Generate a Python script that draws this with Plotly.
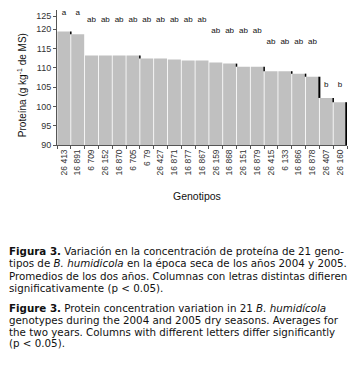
import plotly.graph_objects as go

genotypes = ["26 413", "16 891", "6 709", "26 152", "16 870", "6 705", "6 79", "26 427",
             "16 871", "16 877", "16 867", "26 159", "16 868", "26 151", "16 879", "26 415",
             "6 133", "16 866", "16 878", "26 407", "26 160"]
protein = [119.4, 118.7, 113.2, 113.2, 113.2, 113.2, 112.4, 112.4, 112.15, 111.9, 111.9,
           111.4, 111.1, 110.3, 110.3, 109.1, 109.1, 108.5, 107.7, 102.2, 101.1]
letters = ["a", "a", "ab", "ab", "ab", "ab", "ab", "ab", "ab", "ab", "ab", "ab", "ab", "ab",
           "ab", "ab", "ab", "ab", "ab", "b", "b"]
y_ticks = [90, 95, 100, 105, 110, 115, 120, 125]

# layout/style (positions of the significance letters, in axis units)
letter_pos = [124.2, 124.2] + [122.4] * 9 + [119.6] * 4 + [116.7] * 4 + [105.6] * 2
shadow_after = [0, 5, 12, 14, 16, 17, 18, 19]  # visible dark bar-edge shadows

OFF = 8  # default page-body margin of the html page
W, H = 360 - OFF, 368 - OFF
L, R, T, B = 57 - OFF, 13, 10 - OFF, 223.3
pw, ph = W - L - R, H - T - B


def px(x):  # page pixel -> paper coordinate
    return (x - OFF - L) / pw


def py(y):
    return 1 - (y - OFF - T) / ph


fig = go.Figure()
fig.add_trace(go.Bar(x=genotypes, y=protein, marker=dict(color="#c0c0c0", line=dict(width=0)),
                     showlegend=False, hoverinfo="x+y"))
fig.add_trace(go.Scatter(x=genotypes, y=letter_pos, mode="text", text=letters,
                         textfont=dict(family="Liberation Sans", size=8, color="#111"),
                         showlegend=False, hoverinfo="skip"))

shapes = []
for i in shadow_after:
    hi = protein[i]
    lo = protein[i + 1] if i + 1 < len(protein) else 90
    shapes.append(dict(type="line", xref="x", yref="y", x0=i + 0.5, x1=i + 0.5, y0=lo, y1=hi,
                       line=dict(color="black", width=2 if hi - lo > 2 else 1.5)))
last = len(protein) - 1
shapes.append(dict(type="line", xref="x", yref="y", x0=last + 0.45, x1=last + 0.45, y0=90,
                   y1=protein[last], line=dict(color="black", width=2)))

tick_pos = y_ticks[:-1] + [123.4]

fig.update_layout(
    width=W, height=H, autosize=False,
    margin=dict(l=L, r=R, t=T, b=B, pad=0),
    paper_bgcolor="white", plot_bgcolor="white",
    bargap=0.06,
    font=dict(family="Liberation Sans", color="#222"),
    shapes=shapes,
    xaxis=dict(type="category", showgrid=False, showline=True, linecolor="#555", linewidth=1,
               automargin=False,
               ticks="outside", tickson="boundaries", ticklen=3, tickcolor="#555",
               tickangle=-90, tickfont=dict(size=8.5, color="#333"),
               range=[-0.5, len(genotypes) - 0.5]),
    yaxis=dict(range=[90, 125], showgrid=False, zeroline=False, showline=True, linecolor="#555",
               automargin=False,
               linewidth=1, ticks="outside", ticklen=3, tickcolor="#555",
               tickvals=tick_pos, ticktext=[str(v) for v in y_ticks],
               tickfont=dict(size=9, color="#333")),
)

# axis titles
fig.add_annotation(text="Genotipos", xref="paper", yref="paper", x=px(197), y=py(196),
                   xanchor="center", yanchor="middle", showarrow=False,
                   font=dict(family="Liberation Sans", size=10.5, color="#111"))
fig.add_annotation(text="Proteína (g kg<sup>-1</sup> de MS)", xref="paper", yref="paper",
                   x=px(22), y=py(85), textangle=-90, xanchor="center", yanchor="middle",
                   showarrow=False, font=dict(family="Liberation Sans", size=10, color="#111"))

cap_font = dict(family="DejaVu Sans", size=10.3, color="#111")
lines = [
    "<b>Figura 3.</b> Variación en la concentración de proteína de 21 geno-",
    "tipos de <i>B. humidicola</i> en la época seca de los años 2004 y 2005.",
    "Promedios de los dos años. Columnas con letras distintas difieren",
    "significativamente (p &lt; 0.05).",
    "<b>Figure 3.</b> Protein concentration variation in 21 <i>B. humidícola</i>",
    "genotypes during the 2004 and 2005 dry seasons. Averages for",
    "the two years. Columns with different letters differ significantly",
    "(p &lt; 0.05).",
]
line_y = [250, 262.5, 275, 287.5, 307, 319, 331, 342.5]
for txt, yy in zip(lines, line_y):
    fig.add_annotation(text=txt, xref="paper", yref="paper", x=px(7), y=py(yy),
                       xanchor="left", yanchor="middle", showarrow=False, font=cap_font)

fig.write_html("out.html")
